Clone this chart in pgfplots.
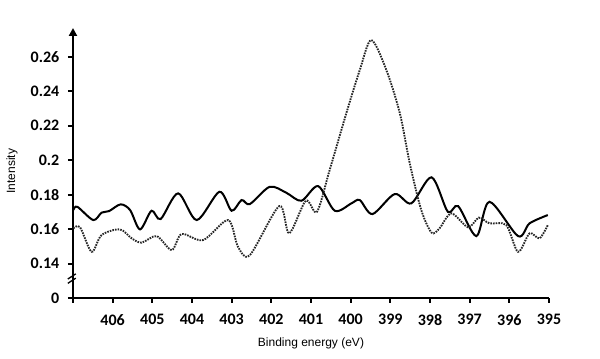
\documentclass[border=0pt]{standalone}
\usepackage{fontspec}
\setmainfont{Liberation Sans}
\newfontfamily\calibri{Carlito}
\usepackage{pgfplots}
\pgfplotsset{compat=1.18}
\usetikzlibrary{arrows.meta}

% solid trace
\pgfplotstableread{
x y
406.99 0.1710
406.89 0.1729
406.49 0.1652
406.28 0.1695
406.09 0.1704
405.80 0.1743
405.56 0.1710
405.31 0.1598
405.02 0.1706
404.79 0.1658
404.35 0.1807
403.88 0.1652
403.31 0.1816
403.00 0.1706
402.75 0.1768
402.54 0.1745
402.04 0.1845
401.62 0.1810
401.24 0.1764
400.82 0.1849
400.40 0.1706
399.98 0.1749
399.77 0.1768
399.45 0.1687
398.89 0.1803
398.47 0.1749
397.96 0.1900
397.55 0.1700
397.29 0.1733
396.83 0.1559
396.50 0.1758
395.78 0.1559
395.49 0.1633
395.03 0.1681
}\solid

% dotted trace
\pgfplotstableread{
x y
406.99 0.1604
406.82 0.1610
406.53 0.1468
406.28 0.1565
405.82 0.1598
405.52 0.1546
405.27 0.1521
404.89 0.1559
404.51 0.1478
404.26 0.1571
403.72 0.1536
403.09 0.1652
402.84 0.1497
402.54 0.1449
401.80 0.1733
401.55 0.1575
401.13 0.1764
400.85 0.1700
400.53 0.1942
400.11 0.2271
399.77 0.2522
399.48 0.2696
399.10 0.2522
398.76 0.2271
398.51 0.1981
398.22 0.1710
397.96 0.1579
397.76 0.1604
397.46 0.1691
397.04 0.1610
396.77 0.1666
396.50 0.1633
396.08 0.1623
395.78 0.1468
395.49 0.1575
395.24 0.1546
395.03 0.1623
}\dotted

\begin{document}
\begin{tikzpicture}
\useasboundingbox (-54.75pt,-45.75pt) rectangle (395.25pt,223.5pt);
\begin{axis}[
  scale only axis,
  width=357pt, height=202.5pt,
  x dir=reverse,
  xmin=395, xmax=407,
  ymin=0.12, ymax=0.2766,
  axis lines=left,
  axis line style={line width=1.5pt},
  x axis line style={-},
  y axis line style={-{Triangle[width=6pt,length=6pt]}},
  tick align=outside,
  major tick length=3.75pt,
  tick style={line width=1.5pt, black},
  xtick={395,396,...,407},
  xticklabels={395,396,397,398,399,400,401,402,403,404,405,406,},
  ytick={0.12,0.14,0.16,0.18,0.2,0.22,0.24,0.26},
  yticklabels={0,0.14,0.16,0.18,0.2,0.22,0.24,0.26},
  ticklabel style={font=\calibri\bfseries\fontsize{12}{14}\selectfont},
  xticklabel style={yshift=-5pt},
  yticklabel style={xshift=-3pt},
  xlabel={Binding energy (eV)},
  ylabel={Intensity},
  label style={font=\fontsize{9}{11}\selectfont},
  xlabel style={at={(axis description cs:0.5,0)}, anchor=center, yshift=-33.75pt},
  ylabel style={at={(axis description cs:-0.128,0.47)}, anchor=center},
  clip=false,
]
\addplot[black, line width=1.5pt, smooth, tension=0.5] table {\solid};
\addplot[black!85, line width=1.4pt, dash pattern=on 1.2pt off 0.8pt, smooth, tension=0.5] table {\dotted};
\draw[line width=1pt] (axis cs:407.13,0.1285) -- (axis cs:406.93,0.1315);
\draw[line width=1pt] (axis cs:407.13,0.1310) -- (axis cs:406.93,0.1340);
\end{axis}
\end{tikzpicture}
\end{document}
